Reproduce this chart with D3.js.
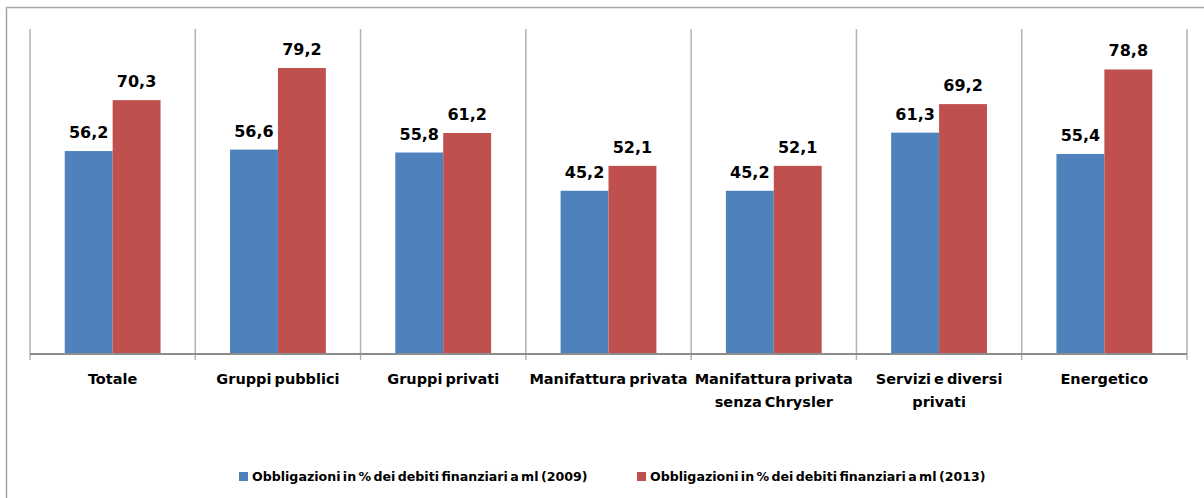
<!DOCTYPE html>
<html>
<head>
<meta charset="utf-8">
<script src="https://cdn.jsdelivr.net/npm/d3@7"></script>
<style>
  html, body { margin: 0; padding: 0; background: #fff; }
  svg { display: block; }
</style>
</head>
<body>
<svg id="chart" width="1204" height="498"></svg>
<script>
const categories = [
  ["Totale"],
  ["Gruppi pubblici"],
  ["Gruppi privati"],
  ["Manifattura privata"],
  ["Manifattura privata", "senza Chrysler"],
  ["Servizi e diversi", "privati"],
  ["Energetico"]
];
const values2009 = [56.2, 56.6, 55.8, 45.2, 45.2, 61.3, 55.4];
const values2013 = [70.3, 79.2, 61.2, 52.1, 52.1, 69.2, 78.8];
const seriesNames = [
  "Obbligazioni in % dei debiti finanziari a ml (2009)",
  "Obbligazioni in % dei debiti finanziari a ml (2013)"
];
const seriesColors = ["#4F81BD", "#C0504D"];
const yMax = 90;

const svg = d3.select("#chart");
const W = 1204, H = 498;
const plot = { left: 30, right: 1187, top: 29, bottom: 354 };

svg.append("rect").attr("x", 6.5).attr("y", 7.5).attr("width", W + 10).attr("height", H + 10)
  .attr("fill", "#fff").attr("stroke", "#a6a6a6").attr("stroke-width", 1.5);

const idx = d3.range(categories.length);
const x = d3.scaleBand().domain(idx).range([plot.left, plot.right]).paddingInner(0).paddingOuter(0);
const y = d3.scaleLinear().domain([0, yMax]).range([plot.bottom, plot.top]);

const barW = x.bandwidth() / (2 + 1.45);

const bounds = d3.range(categories.length + 1).map(i => plot.left + i * x.bandwidth());
svg.append("g").selectAll("line").data(bounds).join("line")
  .attr("x1", d => d).attr("x2", d => d)
  .attr("y1", plot.top).attr("y2", plot.bottom + 6)
  .attr("stroke", "#b3b3b3").attr("stroke-width", 1.5);

const series = [values2009, values2013];
series.forEach((vals, s) => {
  const g = svg.append("g");
  g.selectAll("rect").data(vals).join("rect")
    .attr("x", (d, i) => x(i) + x.bandwidth() / 2 - barW + s * barW)
    .attr("width", barW)
    .attr("y", d => y(d))
    .attr("height", d => y(0) - y(d))
    .attr("fill", seriesColors[s]);
  g.selectAll("text").data(vals).join("text")
    .attr("x", (d, i) => x(i) + x.bandwidth() / 2 - barW / 2 + s * barW)
    .attr("y", d => y(d) - 13)
    .attr("text-anchor", "middle")
    .attr("font-family", "DejaVu Sans")
    .attr("font-weight", "bold")
    .attr("font-size", 16)
    .attr("fill", "#000")
    .text(d => d.toFixed(1).replace(".", ","));
});

svg.append("line").attr("x1", plot.left).attr("x2", plot.right)
  .attr("y1", plot.bottom).attr("y2", plot.bottom)
  .attr("stroke", "#8c8c8c").attr("stroke-width", 2);

const lab = svg.append("g").selectAll("text").data(categories).join("text")
  .attr("text-anchor", "middle")
  .attr("font-family", "DejaVu Sans")
  .attr("font-weight", "bold")
  .attr("font-size", 14.5)
  .attr("fill", "#000")
  .attr("word-spacing", -2);
lab.each(function(lines, i) {
  const t = d3.select(this);
  lines.forEach((ln, k) => {
    t.append("tspan").attr("x", x(i) + x.bandwidth() / 2).attr("y", 384 + k * 23).text(ln);
  });
});

const legX = [239, 637];
seriesNames.forEach((n, s) => {
  svg.append("rect").attr("x", legX[s]).attr("y", 472).attr("width", 9).attr("height", 9)
    .attr("fill", seriesColors[s]);
  svg.append("text").attr("x", legX[s] + 13).attr("y", 481)
    .attr("font-family", "DejaVu Sans").attr("font-weight", "bold")
    .attr("font-size", 12.6).attr("word-spacing", -2).attr("fill", "#000").text(n);
});
</script>
</body>
</html>
